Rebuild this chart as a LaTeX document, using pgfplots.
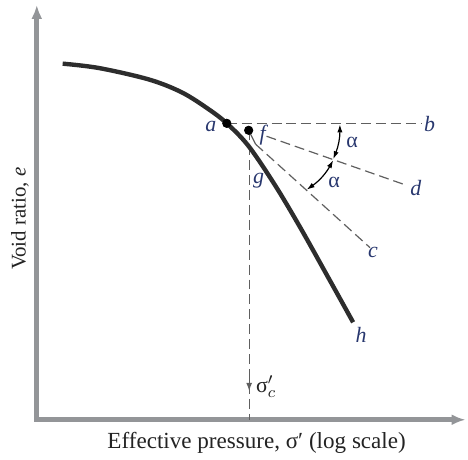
\documentclass[border=0pt]{standalone}
\usepackage{fontspec}
\setmainfont{Liberation Serif}
\usepackage{pgfplots}
\pgfplotsset{compat=1.18}
\usetikzlibrary{arrows.meta}
\definecolor{axgray}{RGB}{147,149,152}
\definecolor{curvec}{RGB}{45,45,45}
\definecolor{lbl}{RGB}{40,55,110}
\definecolor{dashc}{RGB}{95,95,95}
\definecolor{txt}{RGB}{35,35,35}
\begin{document}
\begin{tikzpicture}
\begin{axis}[scale only axis, width=234pt, height=229.5pt,
  xmin=0, xmax=468, ymin=0, ymax=459, y dir=reverse,
  hide axis, clip=false]
\path (axis cs:0,0) rectangle (axis cs:468,459);
% axes
\draw[axgray, line width=2.5pt, line join=miter,
  {Latex[length=7pt,width=5.5pt]}-{Latex[length=7pt,width=5.5pt]}]
  (axis cs:37,5) -- (axis cs:37,422) -- (axis cs:468,422);
% dashed construction lines
\addplot[dashc, line width=0.6pt, dash pattern=on 5pt off 2.5pt] coordinates {(228,124) (424,124)};
\addplot[dashc, line width=0.6pt, dash pattern=on 5pt off 2.5pt] coordinates {(250.5,131) (250.5,422)};
\addplot[dashc, line width=0.6pt, dash pattern=on 5pt off 2.5pt] coordinates {(268,137) (405,185)};
\addplot[dashc, line width=0.6pt, dash pattern=on 5pt off 2.5pt] coordinates {(257,145) (372,249)};
\addplot[dashc, line width=0.6pt] coordinates {(250,131) (257,145)};
% compression curve
\addplot[curvec, line width=2.2pt, smooth, tension=0.55] coordinates {
(63,64) (100,68.5) (150,80) (183,93) (210,110) (228,124) (250,147)
(277,187) (302,229) (330,279) (355,324)};
% points a and f
\addplot[only marks, mark=*, mark size=2.1pt, black] coordinates {(228,124) (250,131)};
% arrow on sigma_c line
\draw[dashc, line width=0.6pt, -{Latex[length=4pt,width=3pt]}] (axis cs:250.5,380) -- (axis cs:250.5,393);
% angle arcs
\draw[black, line width=0.6pt, {Latex[length=4pt,width=2.6pt]}-{Latex[length=4pt,width=2.6pt]}]
  (axis cs:341.7,125) to[bend left=11] (axis cs:335,160);
\draw[black, line width=0.6pt, {Latex[length=4pt,width=2.6pt]}-{Latex[length=4pt,width=2.6pt]}]
  (axis cs:335,161) to[bend left=13] (axis cs:308.3,190.7);
% labels
\node[lbl, font=\fontsize{11}{13}\selectfont\itshape] at (axis cs:212,127) {a};
\node[lbl, font=\fontsize{11}{13}\selectfont\itshape] at (axis cs:432,125) {b};
\node[lbl, font=\fontsize{11}{13}\selectfont\itshape] at (axis cs:264,136) {f};
\node[lbl, font=\fontsize{11}{13}\selectfont\itshape] at (axis cs:260,182) {g};
\node[lbl, font=\fontsize{11}{13}\selectfont\itshape] at (axis cs:418,189) {d};
\node[lbl, font=\fontsize{11}{13}\selectfont\itshape] at (axis cs:375,254) {c};
\node[lbl, font=\fontsize{11}{13}\selectfont\itshape] at (axis cs:363,337) {h};
\node[lbl, font=\fontsize{11}{13}\selectfont] at (axis cs:354,143) {α};
\node[lbl, font=\fontsize{11}{13}\selectfont] at (axis cs:336,183) {α};
\node[txt, anchor=west, font=\fontsize{11}{13}\selectfont, inner sep=0pt] at (axis cs:257,389) {σ$'_{c}$};
\node[txt, font=\fontsize{11.6}{13}\selectfont] at (axis cs:258,445) {Effective pressure, σ′ (log scale)};
\node[txt, rotate=90, font=\fontsize{10.5}{13}\selectfont] at (axis cs:20,220) {Void ratio, \textit{e}};
\end{axis}
\end{tikzpicture}
\end{document}
